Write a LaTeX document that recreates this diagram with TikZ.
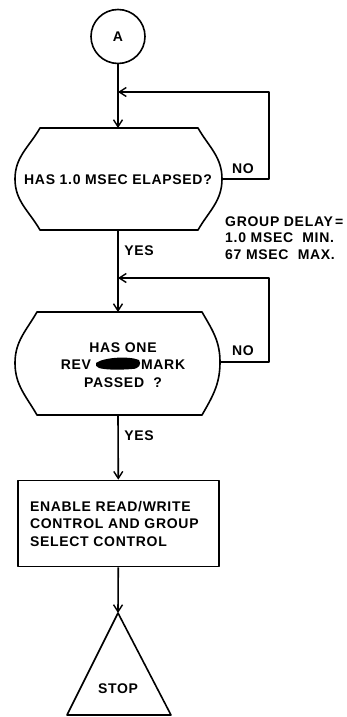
\documentclass[tikz,border=0pt]{standalone}
\usepackage{fontspec}
\setmainfont{Liberation Sans}[LetterSpace=5.0]
\usetikzlibrary{arrows.meta}
\begin{document}
\begin{tikzpicture}[x=1pt,y=-1pt,
  line/.style={line width=1.6pt, line join=round},
  flow/.style={line, -{Straight Barb[length=7pt,width=9pt,line width=1.4pt]}},
  lbl/.style={font=\bfseries\fontsize{14}{17.5}\selectfont, inner sep=0pt},
]
\useasboundingbox (0,0) rectangle (347,717);

% connector A
\node[circle, draw, line, minimum size=54pt, inner sep=0pt, lbl] (A) at (118,36.5) {A};

% decision 1
\coordinate (d1t) at (118,128);
\coordinate (d1b) at (118,230);
\coordinate (d1r) at (222,179);
\coordinate (j1) at (118,92);
\coordinate (c1) at (269,92);
\draw[line] (40,128) -- (198,128) to[out=-60,in=90] (d1r) to[out=-90,in=60] (198,230)
  -- (40,230) to[out=120,in=-90] (15,179) to[out=90,in=-120] cycle;
\node[lbl] (q1) at (118,180) {HAS 1.0 MSEC ELAPSED?};
\node[lbl] (no1) at (243,169) {NO};
\node[lbl] (yes1) at (139,251) {YES};
\node[lbl, font=\bfseries\fontsize{14}{16.5}\selectfont, anchor=west, align=left] (gd) at (225,238) {GROUP DELAY\,=\\1.0 MSEC\ \ MIN.\\67 MSEC\ \ MAX.};

% decision 2
\coordinate (d2t) at (118,312);
\coordinate (d2b) at (118,415);
\coordinate (d2r) at (220,362);
\coordinate (j2) at (118,278);
\coordinate (c2) at (269,278);
\draw[line] (37,312) -- (202,312) to[out=-60,in=90] (d2r) to[out=-90,in=60] (202,415)
  -- (37,415) to[out=120,in=-90] (15,363) to[out=90,in=-120] cycle;
\node[lbl, align=center] (q2) at (123,365) {HAS ONE\\REV\hspace*{50pt}MARK\\PASSED\ \ ?};
\fill (96,363) .. controls (104,357) and (130,356) .. (139,360) .. controls (142,364) and (139,369) .. (132,369)
  .. controls (120,370) and (106,370) .. (99,368) .. controls (96,366) and (95,365) .. cycle;
\node[lbl] (no2) at (243,351) {NO};
\node[lbl] (yes2) at (139,436) {YES};

% process box
\node[draw, line, lbl, minimum width=201pt, minimum height=86pt, text width=177pt, inner xsep=12pt, align=left] (box) at (118.5,523.5)
  {ENABLE READ/WRITE\\CONTROL AND GROUP\\SELECT CONTROL};

% stop triangle
\coordinate (apex) at (118,613);
\draw[line] (apex) -- (171,715) -- (67,715) -- cycle;
\node[lbl] (stop) at (118,689) {STOP};

% connectors
\draw[flow] (A) -- (d1t);
\draw[flow] (d1r) -| (c1) -- (j1);
\draw[flow] (d1b) -- (d2t);
\draw[flow] (d2r) -| (c2) -- (j2);
\draw[flow] (d2b) -- (box);
\draw[flow] (box) -- (apex);
\end{tikzpicture}
\end{document}
